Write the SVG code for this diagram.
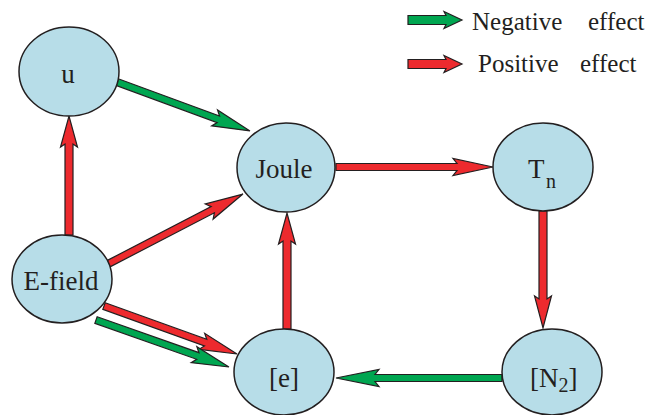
<svg xmlns="http://www.w3.org/2000/svg" width="652" height="415" viewBox="0 0 652 415" font-family="'Liberation Serif', 'Times New Roman', 'DejaVu Serif', serif">
<style>
.node ellipse{fill:#b7dde8;stroke:#231f20;stroke-width:1.5}
text{font-family:'Liberation Serif','Times New Roman','DejaVu Serif',serif;fill:#231f20}
.lbl{font-size:27px;text-anchor:middle}
.leg{font-size:25px}
.pos{fill:#ed2a2e;stroke:#231f20;stroke-width:1.2;stroke-linejoin:miter}
.neg{fill:#00a651;stroke:#231f20;stroke-width:1.2;stroke-linejoin:miter}
</style>
<rect width="652" height="415" fill="#fff"/>
<g id="connectors">
<path class="neg" transform="translate(117,82) rotate(20.2)" d="M0,-3.5 H108 L104,-8.5 L141.7,0 L104,8.5 L108,3.5 H0 Z"/>
<path class="pos" transform="translate(108,264) rotate(-27.4)" d="M0,-3.5 H118 L114,-8.5 L152,0 L114,8.5 L118,3.5 H0 Z"/>
<path class="pos" transform="translate(104,306) rotate(19.85)" d="M0,-3.5 H108 L104,-8.5 L141.4,0 L104,8.5 L108,3.5 H0 Z"/>
<path class="neg" transform="translate(96,320) rotate(19.46)" d="M0,-3.5 H108 L104,-8.5 L141,0 L104,8.5 L108,3.5 H0 Z"/>
<path class="pos" transform="translate(336,167) rotate(0)" d="M0,-3.5 H121 L117,-8.5 L157,0 L117,8.5 L121,3.5 H0 Z"/>
<path class="pos" transform="translate(543,211) rotate(90)" d="M0,-4 H88 L85,-8.5 L117,0 L85,8.5 L88,4 H0 Z"/>
<path class="neg" transform="translate(502,378) rotate(180)" d="M0,-3.5 H127 L123,-8.5 L166,0 L123,8.5 L127,3.5 H0 Z"/>
<path class="pos" transform="translate(287,329) rotate(-90)" d="M0,-4 H88 L85,-8.5 L116,0 L85,8.5 L88,4 H0 Z"/>
<path class="pos" transform="translate(69,235) rotate(-90)" d="M0,-4 H91 L88,-8.5 L119,0 L88,8.5 L91,4 H0 Z"/>
</g>
<g id="legend">
<path class="neg" d="M408,15.5 H446 L444,11.5 L462,20 L444,28.5 L446,24.5 H408 Z"/>
<text class="leg" x="472" y="30">Negative</text>
<text class="leg" x="588" y="30">effect</text>
<path class="pos" d="M408,59.5 H446 L444,55.5 L462,64 L444,72.5 L446,68.5 H408 Z"/>
<text class="leg" x="478" y="72">Positive</text>
<text class="leg" x="580" y="72">effect</text>
</g>
<g id="u" class="node"><ellipse cx="69" cy="71.5" rx="50" ry="44.5"/><text class="lbl" x="68" y="83">u</text></g>
<g id="joule" class="node"><ellipse cx="286" cy="167.5" rx="49" ry="44.5"/><text class="lbl" x="284" y="178">Joule</text></g>
<g id="tn" class="node"><ellipse cx="543" cy="167" rx="50" ry="44"/><text x="528" y="178" font-size="27">T</text><text x="546" y="188" font-size="20">n</text></g>
<g id="efield" class="node"><ellipse cx="62" cy="279" rx="50" ry="44"/><text class="lbl" x="61" y="290">E-field</text></g>
<g id="e" class="node"><ellipse cx="284" cy="372" rx="50" ry="43"/><text class="lbl" x="284" y="387">[e]</text></g>
<g id="n2" class="node"><ellipse cx="552" cy="372" rx="50" ry="43"/><text x="530" y="387" font-size="27">[N<tspan dy="5" font-size="20">2</tspan><tspan dy="-5">]</tspan></text></g>
</svg>
